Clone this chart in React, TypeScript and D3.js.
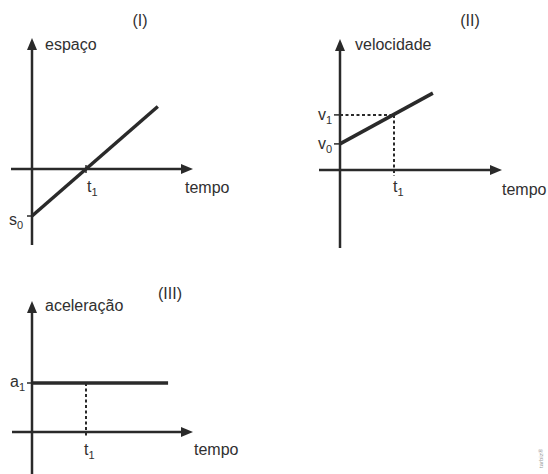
import React from "react";
import * as d3 from "d3";

// Panel I: espaço × tempo
const spaceTimes = [0, 2.33];
const spaceValues = [-1, 1.33];
// Panel II: velocidade × tempo
const velTimes = [0, 1.72];
const velValues = [0.9, 2.65];
const velMarks = { v0: 0.9, v1: 1.9, t1: 1 };
// Panel III: aceleração × tempo
const accTimes = [0, 2.52];
const accValues = [1, 1];
const accMarks = { a1: 1, t1: 1 };

const AX = "#2a2a2a";
const TXT = "#2e2e2e";
const FONT = "Liberation Sans, Arial, sans-serif";

function Arrow({ x1, y1, x2, y2 }: { x1: number; y1: number; x2: number; y2: number }) {
  const ang = Math.atan2(y2 - y1, x2 - x1);
  const L = 12, W = 5;
  const bx = x2 - L * Math.cos(ang), by = y2 - L * Math.sin(ang);
  const px = -Math.sin(ang) * W, py = Math.cos(ang) * W;
  return (
    <g>
      <line x1={x1} y1={y1} x2={bx + 2 * Math.cos(ang)} y2={by + 2 * Math.sin(ang)} stroke={AX} strokeWidth={2.5} />
      <path d={`M${x2},${y2}L${bx + px},${by + py}L${bx - px},${by - py}Z`} fill={AX} />
    </g>
  );
}

function Label({ x, y, text, sub, size = 16, anchor = "start" }: { x: number; y: number; text: string; sub?: string; size?: number; anchor?: string }) {
  return (
    <text x={x} y={y} fontFamily={FONT} fontSize={size} fill={TXT} textAnchor={anchor}>
      {text}
      {sub !== undefined && (
        <tspan fontSize={11} dy={4} fill={TXT}>{sub}</tspan>
      )}
    </text>
  );
}

export default function App() {
  const line = (xs: d3.ScaleLinear<number, number>, ys: d3.ScaleLinear<number, number>, t: number[], v: number[]) =>
    d3.line<number>().x((_, i) => xs(t[i])).y((d) => ys(d))(v) || "";

  // Panel I scales
  const x1 = d3.scaleLinear().domain([0, 1]).range([32, 86]);
  const y1 = d3.scaleLinear().domain([-1, 0]).range([216, 169]);
  // Panel II scales
  const x2 = d3.scaleLinear().domain([0, 1]).range([340, 394]);
  const y2 = d3.scaleLinear().domain([0, 1]).range([170, 141]);
  // Panel III scales
  const x3 = d3.scaleLinear().domain([0, 1]).range([32, 86]);
  const y3 = d3.scaleLinear().domain([0, 1]).range([432, 383]);

  return (
    <svg width={548} height={474} style={{ position: "absolute", left: 0, top: 0, background: "#fff" }}>
      <rect width={548} height={474} fill="#fff" />
      {/* Panel I */}
      <Arrow x1={11} y1={y1(0)} x2={193} y2={y1(0)} />
      <Arrow x1={x1(0)} y1={245} x2={x1(0)} y2={38} />
      <line x1={x1(1)} y1={y1(0) - 4} x2={x1(1)} y2={y1(0) + 4} stroke={AX} strokeWidth={1.5} />
      <line x1={x1(0) - 5} y1={y1(-1)} x2={x1(0)} y2={y1(-1)} stroke={AX} strokeWidth={1.5} />
      <path d={line(x1, y1, spaceTimes, spaceValues)} stroke={AX} strokeWidth={3.5} fill="none" />

      {/* Panel II */}
      <Arrow x1={319} y1={y2(0)} x2={502} y2={y2(0)} />
      <Arrow x1={x2(0)} y1={248} x2={x2(0)} y2={39} />
      <line x1={x2(0) - 6} y1={y2(velMarks.v1)} x2={x2(0)} y2={y2(velMarks.v1)} stroke={AX} strokeWidth={1.5} />
      <line x1={x2(0) - 6} y1={y2(velMarks.v0)} x2={x2(0)} y2={y2(velMarks.v0)} stroke={AX} strokeWidth={1.5} />
      <line x1={x2(0)} y1={y2(velMarks.v1)} x2={x2(velMarks.t1)} y2={y2(velMarks.v1)} stroke={AX} strokeWidth={2} strokeDasharray="3,2.5" />
      <line x1={x2(velMarks.t1)} y1={y2(velMarks.v1)} x2={x2(velMarks.t1)} y2={y2(0) + 6} stroke={AX} strokeWidth={2} strokeDasharray="3,2.5" />
      <path d={line(x2, y2, velTimes, velValues)} stroke={AX} strokeWidth={3.5} fill="none" />

      {/* Panel III */}
      <Arrow x1={12} y1={y3(0)} x2={193} y2={y3(0)} />
      <Arrow x1={x3(0)} y1={474} x2={x3(0)} y2={301} />
      <line x1={x3(0) - 5} y1={y3(accMarks.a1)} x2={x3(0)} y2={y3(accMarks.a1)} stroke={AX} strokeWidth={1.5} />
      <line x1={x3(accMarks.t1)} y1={y3(accMarks.a1)} x2={x3(accMarks.t1)} y2={y3(0) + 6} stroke={AX} strokeWidth={2} strokeDasharray="3,2.5" />
      <path d={line(x3, y3, accTimes, accValues)} stroke={AX} strokeWidth={3.5} fill="none" />

      <g opacity={0.99}>
        <Label x={140} y={26} text="(I)" anchor="middle" />
        <Label x={45} y={50} text="espaço" />
        <Label x={x1(1) + 1} y={192} text="t" sub="1" />
        <Label x={185} y={193} text="tempo" />
        <Label x={9} y={225} text="s" sub="0" />

        <Label x={470} y={26} text="(II)" anchor="middle" />
        <Label x={355} y={50} text="velocidade" />
        <Label x={x2(velMarks.t1) - 1} y={192} text="t" sub="1" />
        <Label x={502} y={195} text="tempo" />
        <Label x={318} y={120} text="v" sub="1" />
        <Label x={318} y={149} text="v" sub="0" />

        <Label x={170} y={299} text="(III)" anchor="middle" />
        <Label x={45} y={311} text="aceleração" />
        <Label x={x3(accMarks.t1) - 2} y={455} text="t" sub="1" />
        <Label x={194} y={455} text="tempo" />
        <Label x={10} y={387} text="a" sub="1" />

        <text x={543} y={468} fontFamily={FONT} fontSize={6} fill="#999" transform="rotate(-90 543 468)">tarbiz®</text>
      </g>
    </svg>
  );
}
